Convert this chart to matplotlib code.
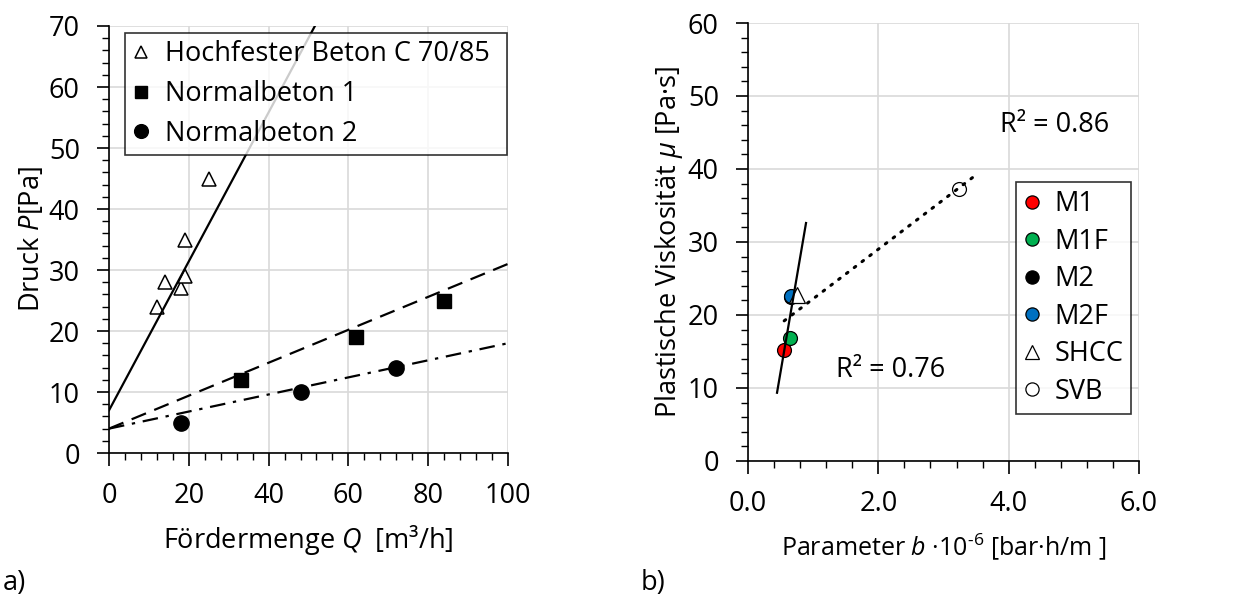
import matplotlib
matplotlib.use("Agg")
import matplotlib.pyplot as plt
from matplotlib.ticker import MultipleLocator, FormatStrFormatter

plt.rcParams['font.family'] = ['Open Sans', 'DejaVu Sans']
plt.rcParams['mathtext.fontset'] = 'custom'
plt.rcParams['mathtext.rm'] = 'Open Sans'
plt.rcParams['mathtext.it'] = 'Open Sans:italic'
plt.rcParams['font.size'] = 19.5

# --- data chart a) ---
hf_q = [12, 14, 18, 19, 19, 25]
hf_p = [24, 28, 27, 29, 35, 45]
nb1_q = [33, 62, 84]
nb1_p = [12, 19, 25]
nb2_q = [18, 48, 72]
nb2_p = [5, 10, 14]
# trend lines (start/end points)
hf_fit_q = [0, 51.6]
hf_fit_p = [7, 70]
nb1_fit_q = [0, 100]
nb1_fit_p = [4, 31]
nb2_fit_q = [0, 100]
nb2_fit_p = [4, 18]

# --- data chart b) ---
labels_b = ['M1', 'M1F', 'M2', 'M2F', 'SHCC', 'SVB']
b_vals = [0.545, 0.645, 0.66, 0.66, 0.745, 3.24]
mu_vals = [15.2, 16.9, 22.5, 22.6, 22.7, 37.2]
b_colors = ['#ff0000', '#00b050', '#000000', '#0070c0', 'white', 'white']
b_markers = ['o', 'o', 'o', 'o', '^', 'o']
solid_fit_b = [0.445, 0.89]
solid_fit_mu = [9.35, 32.6]
dot_fit_b = [0.555, 3.53]
dot_fit_mu = [19.2, 39.4]

fig = plt.figure(figsize=(12.36, 5.99), dpi=100)
grid_col = '#d9d9d9'


def style_axes(ax):
    ax.grid(True, color=grid_col, lw=1.2, zorder=0)
    ax.set_axisbelow(True)
    ax.spines['top'].set_visible(False)
    ax.spines['right'].set_visible(False)
    ax.spines['left'].set_linewidth(1.2)
    ax.spines['bottom'].set_linewidth(1.2)
    ax.tick_params(which='major', direction='out', length=9, width=1.2)
    ax.tick_params(which='minor', direction='out', length=5, width=1.0)
    ax.tick_params(axis='x', pad=12)
    ax.tick_params(axis='y', pad=12)


# chart a)
ax1 = fig.add_axes([0.0882, 0.2437, 0.3228, 0.7129])
style_axes(ax1)
ax1.plot(hf_q, hf_p, '^', ms=10, mfc='white', mec='black', mew=1.1, ls='none',
         label='Hochfester Beton C 70/85', zorder=3)
ax1.plot(nb1_q, nb1_p, 's', ms=10, color='black', ls='none', label='Normalbeton 1', zorder=3)
ax1.plot(nb2_q, nb2_p, 'o', ms=11, color='black', ls='none', label='Normalbeton 2', zorder=3)
ax1.plot(hf_fit_q, hf_fit_p, color='black', lw=1.6, zorder=4)
ax1.plot(nb1_fit_q, nb1_fit_p, color='black', lw=1.6, dashes=(7, 4), zorder=4)
ax1.plot(nb2_fit_q, nb2_fit_p, color='black', lw=1.6, dashes=(7, 3.5, 1.5, 3.5), zorder=4)
ax1.set_xlim(0, 100)
ax1.set_ylim(0, 70)
ax1.xaxis.set_major_locator(MultipleLocator(20))
ax1.xaxis.set_minor_locator(MultipleLocator(4))
ax1.yaxis.set_major_locator(MultipleLocator(10))
ax1.yaxis.set_minor_locator(MultipleLocator(2))
ax1.set_xlabel(r'Fördermenge $\mathit{Q}$  [m³/h]', labelpad=9)
ax1.set_ylabel(r'Druck $\mathit{P}$[Pa]', labelpad=2)
leg1 = ax1.legend(loc='upper left', bbox_to_anchor=(0.040, 0.0, 0.957, 0.984), mode='expand',
                  frameon=True, fancybox=False, edgecolor='black', handlelength=0.6,
                  handletextpad=0.6, borderpad=0.28, labelspacing=0.43, markerscale=0.9,
                  borderaxespad=0)
leg1.get_frame().set_linewidth(1.2)

# chart b)
ax2 = fig.add_axes([0.6052, 0.2304, 0.3163, 0.7312])
style_axes(ax2)
for b, mu, c, m, lab in zip(b_vals, mu_vals, b_colors, b_markers, labels_b):
    ax2.plot(b, mu, m, ms=11 if m == '^' else 10, mfc=c, mec='black', mew=0.9,
             ls='none', label=lab, zorder=3)
ax2.plot(solid_fit_b, solid_fit_mu, color='black', lw=1.6, zorder=4)
ax2.plot(dot_fit_b, dot_fit_mu, color='black', lw=2.2, ls=(0, (0.6, 2.6)),
         dash_capstyle='round', zorder=4)
ax2.set_xlim(0, 6)
ax2.set_ylim(0, 60)
ax2.xaxis.set_major_locator(MultipleLocator(2))
ax2.xaxis.set_minor_locator(MultipleLocator(0.4))
ax2.yaxis.set_major_locator(MultipleLocator(10))
ax2.yaxis.set_minor_locator(MultipleLocator(2))
ax2.xaxis.set_major_formatter(FormatStrFormatter('%.1f'))
ax2.set_xlabel('Parameter $\\mathit{b}$ ·10$^{\\mathrm{\u20106}}$ [bar·h/m ]',
               labelpad=9, fontsize=18)
ax2.set_ylabel(r'Plastische Viskosität $\mathit{\mu}$ [Pa·s]', labelpad=2)
ax2.text(4.71, 46.0, 'R² = 0.86', ha='center', va='center')
ax2.text(2.18, 12.5, 'R² = 0.76', ha='center', va='center')
leg2 = ax2.legend(loc='upper right', bbox_to_anchor=(0.98, 0.637), frameon=True,
                  fancybox=False, edgecolor='black', handlelength=0.6,
                  handletextpad=0.5, borderpad=0.3, labelspacing=0.35, markerscale=0.95,
                  borderaxespad=0)
leg2.get_frame().set_linewidth(1.2)

fig.text(0.002, 0.027, 'a)', ha='left', va='center')
fig.text(0.518, 0.027, 'b)', ha='left', va='center')

fig.savefig('out.png', dpi=100)
